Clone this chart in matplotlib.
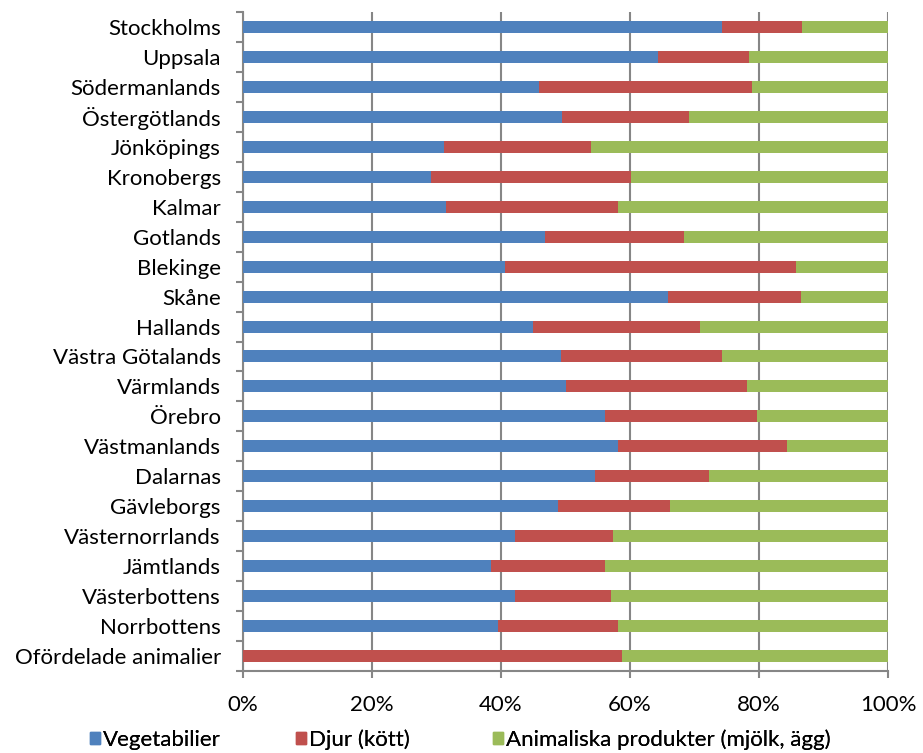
import numpy as np
import matplotlib
matplotlib.use("Agg")
import matplotlib.pyplot as plt
from matplotlib.patches import Patch

# regions, top to bottom
lan = ["Stockholms", "Uppsala", "Södermanlands", "Östergötlands", "Jönköpings",
       "Kronobergs", "Kalmar", "Gotlands", "Blekinge", "Skåne", "Hallands",
       "Västra Götalands", "Värmlands", "Örebro", "Västmanlands", "Dalarnas",
       "Gävleborgs", "Västernorrlands", "Jämtlands", "Västerbottens",
       "Norrbottens", "Ofördelade animalier"]

# share in percent
vegetabilier = [74.3, 64.3, 45.9, 49.5, 31.1, 29.2, 31.4, 46.8, 40.6, 65.9, 45.0,
                49.3, 50.1, 56.1, 58.1, 54.6, 48.9, 42.2, 38.4, 42.2, 39.6, 0.0]
djur = [12.4, 14.1, 33.0, 19.7, 22.9, 31.0, 26.8, 21.6, 45.1, 20.6, 25.9,
        24.9, 28.0, 23.6, 26.2, 17.6, 17.3, 15.1, 17.8, 14.8, 18.5, 58.8]
animaliska = [100 - v - d for v, d in zip(vegetabilier, djur)]

series = ["Vegetabilier", "Djur (kött)", "Animaliska produkter (mjölk, ägg)"]
colors = ["#4F81BD", "#C0504D", "#9BBB59"]
xticks = [0, 20, 40, 60, 80, 100]

plt.rcParams['font.family'] = ['Lato', 'DejaVu Sans']

fig = plt.figure(figsize=(9.23, 7.53), dpi=100)
ax = fig.add_axes([243 / 923, 1 - 671 / 753, 645 / 923, 659 / 753])

y = np.arange(len(lan))
left = np.zeros(len(lan))
for vals, col, name in zip([vegetabilier, djur, animaliska], colors, series):
    ax.barh(y, vals, left=left, height=0.4, color=col, label=name, zorder=3)
    left += np.array(vals)

ax.set_ylim(len(lan) - 0.5, -0.5)
ax.set_xlim(0, 100)
ax.set_yticks(y)
ax.set_yticklabels(lan, fontsize=16)
ax.set_yticks(np.arange(-0.5, len(lan), 1), minor=True)
ax.tick_params(axis='y', which='major', length=0, pad=16)
ax.tick_params(axis='y', which='minor', length=5, width=1.5, color='#868686')
ax.set_xticks(xticks)
ax.set_xticklabels([f"{t}%" for t in xticks], fontsize=16)
ax.tick_params(axis='x', length=5, width=1.5, color='#868686', pad=12)

ax.grid(axis='x', color='#868686', linewidth=1.5, zorder=0)
for s in ['top', 'right']:
    ax.spines[s].set_visible(False)
for s in ['left', 'bottom']:
    ax.spines[s].set_color('#868686')
    ax.spines[s].set_linewidth(1.5)

# one legend per entry so the spacing follows the original
legend_x = [90, 296, 493]
for c, n, lx in zip(colors, series, legend_x):
    leg = fig.legend(handles=[Patch(color=c, label=n)], loc='center left',
                     bbox_to_anchor=(lx / 923, 1 - 740 / 753), frameon=False,
                     fontsize=16, handlelength=0.45, handleheight=0.45,
                     handletextpad=0.15, borderpad=0, borderaxespad=0)
    fig.add_artist(leg)

fig.savefig("out.png", dpi=100)
